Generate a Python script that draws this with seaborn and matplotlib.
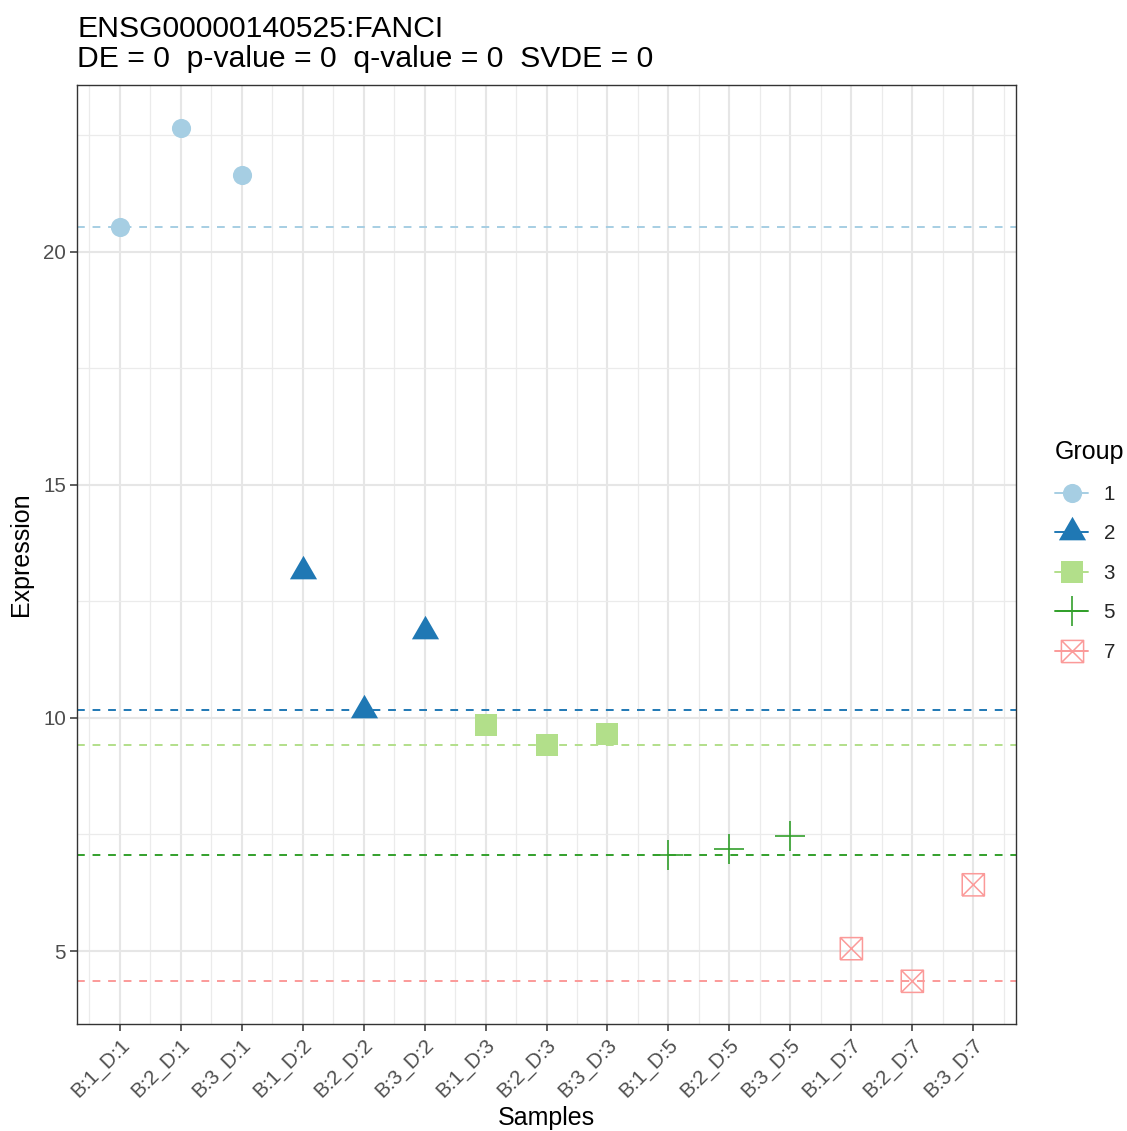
#%% libraries
import numpy as np
import pandas as pd
import matplotlib
matplotlib.use("Agg")
import matplotlib.pyplot as plt
from matplotlib.path import Path
from matplotlib.lines import Line2D
import seaborn as sns

#%% data
samples = ["B:1_D:1", "B:2_D:1", "B:3_D:1",
           "B:1_D:2", "B:2_D:2", "B:3_D:2",
           "B:1_D:3", "B:2_D:3", "B:3_D:3",
           "B:1_D:5", "B:2_D:5", "B:3_D:5",
           "B:1_D:7", "B:2_D:7", "B:3_D:7"]
groups = [1, 1, 1, 2, 2, 2, 3, 3, 3, 5, 5, 5, 7, 7, 7]
expression = [20.54, 22.66, 21.65,
              13.15, 10.16, 11.87,
              9.85, 9.42, 9.65,
              7.06, 7.19, 7.47,
              5.05, 4.35, 6.42]

groupLevels = [1, 2, 3, 5, 7]
groupColors = ["#A6CEE3", "#1F78B4", "#B2DF8A", "#33A02C", "#FB9A99"]

exprDf = pd.DataFrame({"Sample": samples, "Group": groups, "Expression": expression})
exprDf["pos"] = np.arange(1, len(samples) + 1)
groupMin = exprDf.groupby("Group")["Expression"].min()

#%% markers (ggplot-like shapes)
# triangle with centroid at the origin, like ggplot shape 17
triangle = Path([(0, 1), (-0.866, -0.5), (0.866, -0.5), (0, 1)],
                [Path.MOVETO, Path.LINETO, Path.LINETO, Path.CLOSEPOLY])
# square with an x inside, like ggplot shape 7
boxX = Path([(-1, -1), (1, -1), (1, 1), (-1, 1), (-1, -1),
             (-1, -1), (1, 1), (-1, 1), (1, -1)],
            [Path.MOVETO, Path.LINETO, Path.LINETO, Path.LINETO, Path.LINETO,
             Path.MOVETO, Path.LINETO, Path.MOVETO, Path.LINETO])

markerStyle = {
    1: dict(marker="o", s=190, linewidth=0),
    2: dict(marker=triangle, s=510, linewidth=0),
    3: dict(marker="s", s=230, linewidth=0),
    5: dict(marker="+", s=490, linewidth=1.2),
    7: dict(marker=boxX, s=255, linewidth=1.1),
}

#%% plot
sns.set_theme(style="ticks")
plt.rcParams["font.family"] = ["Liberation Sans", "DejaVu Sans"]

fig = plt.figure(figsize=(11.27, 11.31), dpi=100)
ax = fig.add_axes([77 / 1127, 1 - 1024 / 1131, (1016 - 77) / 1127, (1024 - 85) / 1131])
ax.set_facecolor("white")

# grid
ax.set_xticks(exprDf["pos"])
ax.set_xticks(np.arange(0.5, 16, 1), minor=True)
ax.set_yticks([5, 10, 15, 20])
ax.set_yticks([7.5, 12.5, 17.5, 22.5], minor=True)
ax.grid(True, which="major", color="#E6E6E6", linewidth=1.5)
ax.grid(True, which="minor", color="#EBEBEB", linewidth=0.9)
ax.set_axisbelow(True)

# group reference lines
for grp, col in zip(groupLevels, groupColors):
    ax.axhline(groupMin[grp], color=col, linestyle=(0, (4, 4)), linewidth=1.4, zorder=2)

# points
for grp, col in zip(groupLevels, groupColors):
    sub = exprDf[exprDf["Group"] == grp]
    style = markerStyle[grp]
    if grp == 7:
        sns.scatterplot(data=sub, x="pos", y="Expression", ax=ax, color=col,
                        facecolors="none", edgecolor=col, zorder=3, legend=False, **style)
    elif grp == 5:
        sns.scatterplot(data=sub, x="pos", y="Expression", ax=ax, color=col,
                        zorder=3, legend=False, **style)
    else:
        sns.scatterplot(data=sub, x="pos", y="Expression", ax=ax, color=col,
                        edgecolor=col, zorder=3, legend=False, **style)

# axes limits like ggplot expansion
xr = exprDf["pos"].max() - exprDf["pos"].min()
ax.set_xlim(exprDf["pos"].min() - 0.05 * xr, exprDf["pos"].max() + 0.05 * xr)
yr = exprDf["Expression"].max() - exprDf["Expression"].min()
ax.set_ylim(exprDf["Expression"].min() - 0.05 * yr, exprDf["Expression"].max() + 0.05 * yr)

ax.set_xticklabels(samples, rotation=45, ha="right", va="top", rotation_mode="anchor")
ax.tick_params(axis="both", which="major", length=5, width=1.1, color="#333333",
               labelsize=14.8, labelcolor="#4D4D4D", pad=3)
ax.tick_params(axis="both", which="minor", length=0)
for spine in ax.spines.values():
    spine.set_visible(True)
    spine.set_color("#333333")
    spine.set_linewidth(1.0)

ax.set_xlabel("Samples", fontsize=18, color="black", labelpad=4)
ax.set_ylabel("Expression", fontsize=18, color="black", labelpad=7)

ax.set_title("ENSG00000140525:FANCI\nDE = 0  p-value = 0  q-value = 0  SVDE = 0",
             loc="left", fontsize=21.7, color="black", pad=13, linespacing=1.1)

# legend
handles = []
for grp, col in zip(groupLevels, groupColors):
    st = markerStyle[grp]
    msize = np.sqrt(st["s"])
    if grp == 7:
        h = Line2D([0], [0], color=col, linestyle="-", linewidth=1.4, marker=boxX,
                   markersize=msize, markerfacecolor="none", markeredgecolor=col,
                   markeredgewidth=st["linewidth"])
    elif grp == 5:
        h = Line2D([0], [0], color=col, linestyle="-", linewidth=1.4, marker="+",
                   markersize=msize, markeredgecolor=col, markeredgewidth=st["linewidth"])
    else:
        h = Line2D([0], [0], color=col, linestyle="-", linewidth=1.4, marker=st["marker"],
                   markersize=msize, markerfacecolor=col, markeredgewidth=0)
    handles.append(h)

leg = fig.legend(handles, [str(g) for g in groupLevels], title="Group",
                 loc="upper left", bbox_to_anchor=(1047 / 1127, 1 - 432 / 1131),
                 frameon=False, fontsize=14.8, title_fontsize=18,
                 handlelength=1.6, handletextpad=0.75, labelspacing=1.0,
                 borderaxespad=0)
leg._legend_box.align = "left"
leg.get_title().set_color("black")

fig.savefig("out.png", dpi=100)
